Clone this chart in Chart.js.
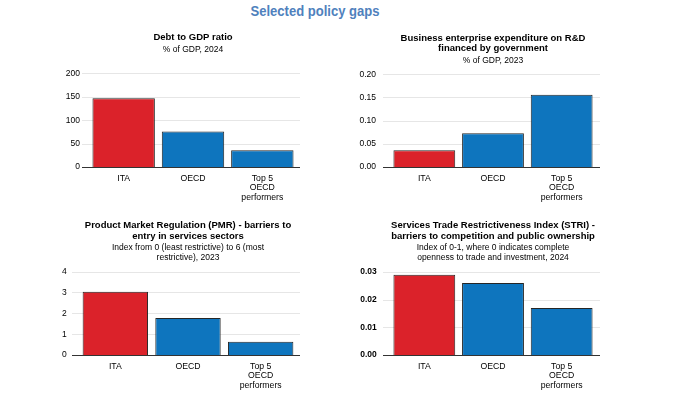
<!DOCTYPE html>
<html>
<head>
<meta charset="utf-8">
<script src="https://cdn.jsdelivr.net/npm/chart.js@4.4.1/dist/chart.umd.min.js"></script>
<style>
  html, body { margin: 0; padding: 0; background: #fff; }
  body { width: 677px; height: 406px; position: relative; overflow: hidden; }
  #mainTitle {
    position: absolute; left: 0; top: 3px; width: 630px; text-align: center;
    font: bold 15px "Liberation Sans", Arial, sans-serif;
    line-height: 1; color: #4f81bd;
    transform: scaleX(0.87); transform-origin: 315px 50%;
  }
  .panel { position: absolute; }
</style>
</head>
<body>
<div id="mainTitle">Selected policy gaps</div>
<div class="panel" style="left:40px;top:26px;width:260px;height:179px"><canvas id="debtChart"></canvas></div>
<div class="panel" style="left:340px;top:26px;width:260px;height:179px"><canvas id="berdChart"></canvas></div>
<div class="panel" style="left:40px;top:210px;width:260px;height:183px"><canvas id="pmrChart"></canvas></div>
<div class="panel" style="left:340px;top:210px;width:260px;height:183px"><canvas id="striChart"></canvas></div>
<script>
// data
const categories = ['ITA', 'OECD', ['Top 5', 'OECD', 'performers']];

const debtValues = [147, 76, 36];
const berdValues = [0.036, 0.073, 0.156];
const pmrValues = [3.03, 1.77, 0.64];
const striValues = [0.029, 0.026, 0.017];

const debtTicks = [0, 50, 100, 150, 200];
const berdTicks = [0, 0.05, 0.10, 0.15, 0.20];
const pmrTicks = [0, 1, 2, 3, 4];
const striTicks = [0, 0.01, 0.02, 0.03];

const RED = 'rgb(219, 34, 42)';
const BLUE = 'rgb(14, 117, 190)';
const barColors = [RED, BLUE, BLUE];

Chart.defaults.font.family = '"Liberation Sans", Arial, sans-serif';
Chart.defaults.color = '#000';

// grid lines and zero line run 7px past the bars on each side
const axisLines = {
  id: 'axisLines',
  beforeDatasetsDraw(chart) {
    const { ctx, chartArea, scales } = chart;
    const y = scales.y;
    ctx.save();
    ctx.strokeStyle = '#e6e6e6';
    ctx.lineWidth = 1;
    y.ticks.forEach((t) => {
      if (t.value === 0) return;
      const py = Math.round(y.getPixelForValue(t.value)) + 0.5;
      ctx.beginPath();
      ctx.moveTo(chartArea.left - 7, py);
      ctx.lineTo(chartArea.right + 7, py);
      ctx.stroke();
    });
    ctx.restore();
  },
  afterDatasetsDraw(chart) {
    const { ctx, chartArea, scales } = chart;
    const py = Math.round(scales.y.getPixelForValue(0)) + 0.5;
    ctx.save();
    ctx.strokeStyle = '#333';
    ctx.lineWidth = 1.2;
    ctx.beginPath();
    ctx.moveTo(chartArea.left - 7, py);
    ctx.lineTo(chartArea.right + 7, py);
    ctx.stroke();
    ctx.restore();
  }
};

function makeChart(id, values, ticks, decimals, p) {
  const ctx = document.getElementById(id);
  return new Chart(ctx, {
    type: 'bar',
    data: {
      labels: categories,
      datasets: [{
        data: values,
        backgroundColor: barColors,
        borderColor: '#262626',
        borderWidth: 1,
        barPercentage: 0.9,
        categoryPercentage: 1
      }]
    },
    plugins: [axisLines],
    options: {
      responsive: true,
      maintainAspectRatio: false,
      animation: false,
      layout: { padding: { left: 0, right: p.right, top: 0, bottom: 0 } },
      plugins: {
        legend: { display: false },
        tooltip: { enabled: false },
        title: {
          display: true,
          text: p.title,
          fullSize: false,
          color: '#000',
          font: { size: 9.5, weight: 'bold', lineHeight: 1.1 },
          padding: { top: p.titleTop, bottom: 0 }
        },
        subtitle: {
          display: true,
          text: p.subtitle,
          fullSize: false,
          color: '#000',
          font: { size: 8.5, lineHeight: 1.15 },
          padding: { top: p.subTop, bottom: p.subBottom }
        }
      },
      scales: {
        x: {
          grid: { display: false, drawTicks: false },
          border: { display: false },
          ticks: {
            color: '#000',
            padding: 6.5,
            maxRotation: 0,
            autoSkip: false,
            font: { size: 8.7, lineHeight: 1.1 }
          },
          afterFit(scale) { scale.height = 38; }
        },
        y: {
          min: ticks[0],
          max: ticks[ticks.length - 1],
          grid: { display: false, drawTicks: false },
          border: { display: false },
          afterBuildTicks(scale) {
            scale.ticks = ticks.map((v) => ({ value: v }));
          },
          ticks: {
            color: '#000',
            padding: p.tickPad,
            font: { size: 8.5, weight: p.boldTicks ? 'bold' : 'normal' },
            callback: (v) => Number(v).toFixed(decimals)
          },
          afterFit(scale) { scale.width = p.yWidth; }
        }
      }
    }
  });
}

makeChart('debtChart', debtValues, debtTicks, 0, {
  title: 'Debt to GDP ratio',
  subtitle: '% of GDP, 2024',
  titleTop: 6.3, subTop: 1.9, subBottom: 18.9,
  yWidth: 49, tickPad: 9, right: 3
});

makeChart('berdChart', berdValues, berdTicks, 2, {
  title: ['Business enterprise expenditure on R&D', 'financed by government'],
  subtitle: '% of GDP, 2023',
  titleTop: 7.1, subTop: 1.8, subBottom: 8.7,
  yWidth: 50, tickPad: 14, right: 4
});

makeChart('pmrChart', pmrValues, pmrTicks, 0, {
  title: ['Product Market Regulation (PMR) - barriers to', 'entry in services sectors'],
  subtitle: ['Index from 0 (least restrictive) to 6 (most', 'restrictive), 2023'],
  titleTop: 10.5, subTop: 1.4, subBottom: 9.3,
  yWidth: 39, tickPad: 12.3, right: 3
});

makeChart('striChart', striValues, striTicks, 2, {
  title: ['Services Trade Restrictiveness Index (STRI) -', 'barriers to competition and public ownership'],
  subtitle: ['Index of 0-1, where 0 indicates complete', 'openness to trade and investment, 2024'],
  titleTop: 10.5, subTop: 1.4, subBottom: 9.6,
  yWidth: 50, tickPad: 13.3, right: 4, boldTicks: true
});
</script>
</body>
</html>
